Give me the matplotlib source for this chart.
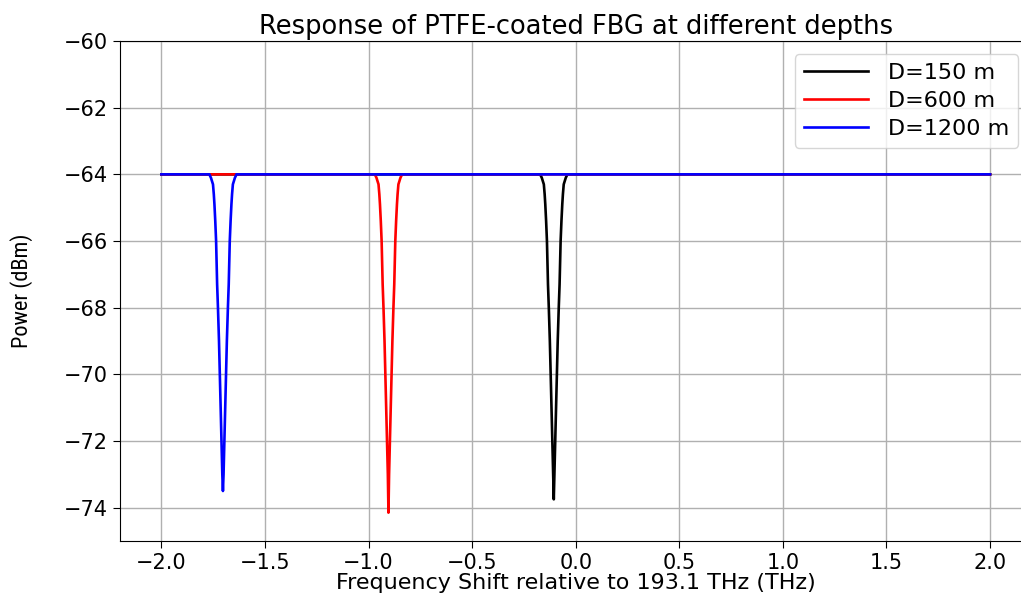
import matplotlib
matplotlib.use("Agg")
import matplotlib.pyplot as plt
from matplotlib import font_manager

# ── Data (THz shift, dBm) ────────────────────────────────────────────────────
x_150 = [-2.0, -0.171, -0.168, -0.164, -0.159, -0.154, -0.150, -0.147, -0.143,
         -0.139, -0.134, -0.130, -0.125, -0.121, -0.117, -0.113, -0.109, -0.106,
         -0.103, -0.099, -0.095, -0.091, -0.087, -0.082, -0.078, -0.073, -0.069,
         -0.065, -0.062, -0.058, -0.053, -0.048, -0.044, -0.041, 2.0]
y_150 = [-64.0, -64.0, -64.05, -64.1, -64.2, -64.3, -64.6, -64.9, -65.4,
         -66.0, -67.3, -68.0, -69.0, -70.0, -71.0, -72.0, -73.0, -73.75,
         -73.0, -72.0, -71.0, -70.0, -69.0, -68.0, -67.3, -66.0, -65.4,
         -64.9, -64.6, -64.3, -64.2, -64.1, -64.05, -64.0, -64.0]

x_600 = [-2.0, -0.969, -0.966, -0.962, -0.957, -0.952, -0.948, -0.945, -0.941,
         -0.937, -0.932, -0.928, -0.923, -0.919, -0.915, -0.911, -0.907, -0.904,
         -0.901, -0.897, -0.893, -0.889, -0.885, -0.880, -0.876, -0.871, -0.867,
         -0.863, -0.860, -0.856, -0.851, -0.846, -0.842, -0.839, 2.0]
y_600 = [-64.0, -64.0, -64.05, -64.1, -64.2, -64.3, -64.6, -64.9, -65.4,
         -66.0, -67.3, -68.0, -69.0, -70.0, -71.0, -72.0, -73.0, -74.15,
         -73.0, -72.0, -71.0, -70.0, -69.0, -68.0, -67.3, -66.0, -65.4,
         -64.9, -64.6, -64.3, -64.2, -64.1, -64.05, -64.0, -64.0]

x_1200 = [-2.0, -1.768, -1.765, -1.761, -1.756, -1.751, -1.747, -1.744, -1.740,
          -1.736, -1.731, -1.727, -1.722, -1.718, -1.714, -1.710, -1.706, -1.703,
          -1.700, -1.696, -1.692, -1.688, -1.684, -1.679, -1.675, -1.670, -1.666,
          -1.662, -1.659, -1.655, -1.650, -1.645, -1.641, -1.638, 2.0]
y_1200 = [-64.0, -64.0, -64.05, -64.1, -64.2, -64.3, -64.6, -64.9, -65.4,
          -66.0, -67.3, -68.0, -69.0, -70.0, -71.0, -72.0, -73.0, -73.5,
          -73.0, -72.0, -71.0, -70.0, -69.0, -68.0, -67.3, -66.0, -65.4,
          -64.9, -64.6, -64.3, -64.2, -64.1, -64.05, -64.0, -64.0]

labels = ["D=150 m", "D=600 m", "D=1200 m"]
colors = ["black", "red", "blue"]

x_ticks = [-2.0, -1.5, -1.0, -0.5, 0.0, 0.5, 1.0, 1.5, 2.0]
y_ticks = [-74, -72, -70, -68, -66, -64, -62, -60]

# narrow-looking font for the y label, whichever is installed
installed = {f.name for f in font_manager.fontManager.ttflist}
ylab_font, ylab_size = "DejaVu Sans", 13
for name, size in [("DejaVu Sans Condensed", 15), ("Liberation Sans Narrow", 16),
                   ("Roboto Condensed", 16), ("Roboto", 14.5)]:
    if name in installed:
        ylab_font, ylab_size = name, size
        break

fig = plt.figure(figsize=(10.21, 5.98), dpi=100)
ax = fig.add_axes([0.1175, 0.0953, 0.8928, 0.8361])

series = [(x_150, y_150), (x_600, y_600), (x_1200, y_1200)]
for (xs, ys), lab, c in zip(series, labels, colors):
    ax.plot(xs, ys, color=c, lw=1.9, label=lab)

ax.set_xlim(-2.2, 2.2)
ax.set_ylim(-75, -60)
ax.set_xticks(x_ticks)
ax.set_yticks(y_ticks)
ax.tick_params(labelsize=15, length=5)
ax.grid(True, color="#b0b0b0", lw=1.0)

ax.set_title("Response of PTFE-coated FBG at different depths", fontsize=18.5, pad=5)
ax.set_xlabel("Frequency Shift relative to 193.1 THz (THz)", fontsize=16, labelpad=0)
ax.set_ylabel("Power (dBm)", fontsize=ylab_size, family=[ylab_font, "DejaVu Sans"],
              labelpad=22)

ax.legend(loc="upper right", fontsize=16, handlelength=2.9, labelspacing=0.35,
          borderaxespad=0.6, handletextpad=0.9)

fig.savefig("out.png", dpi=100)
